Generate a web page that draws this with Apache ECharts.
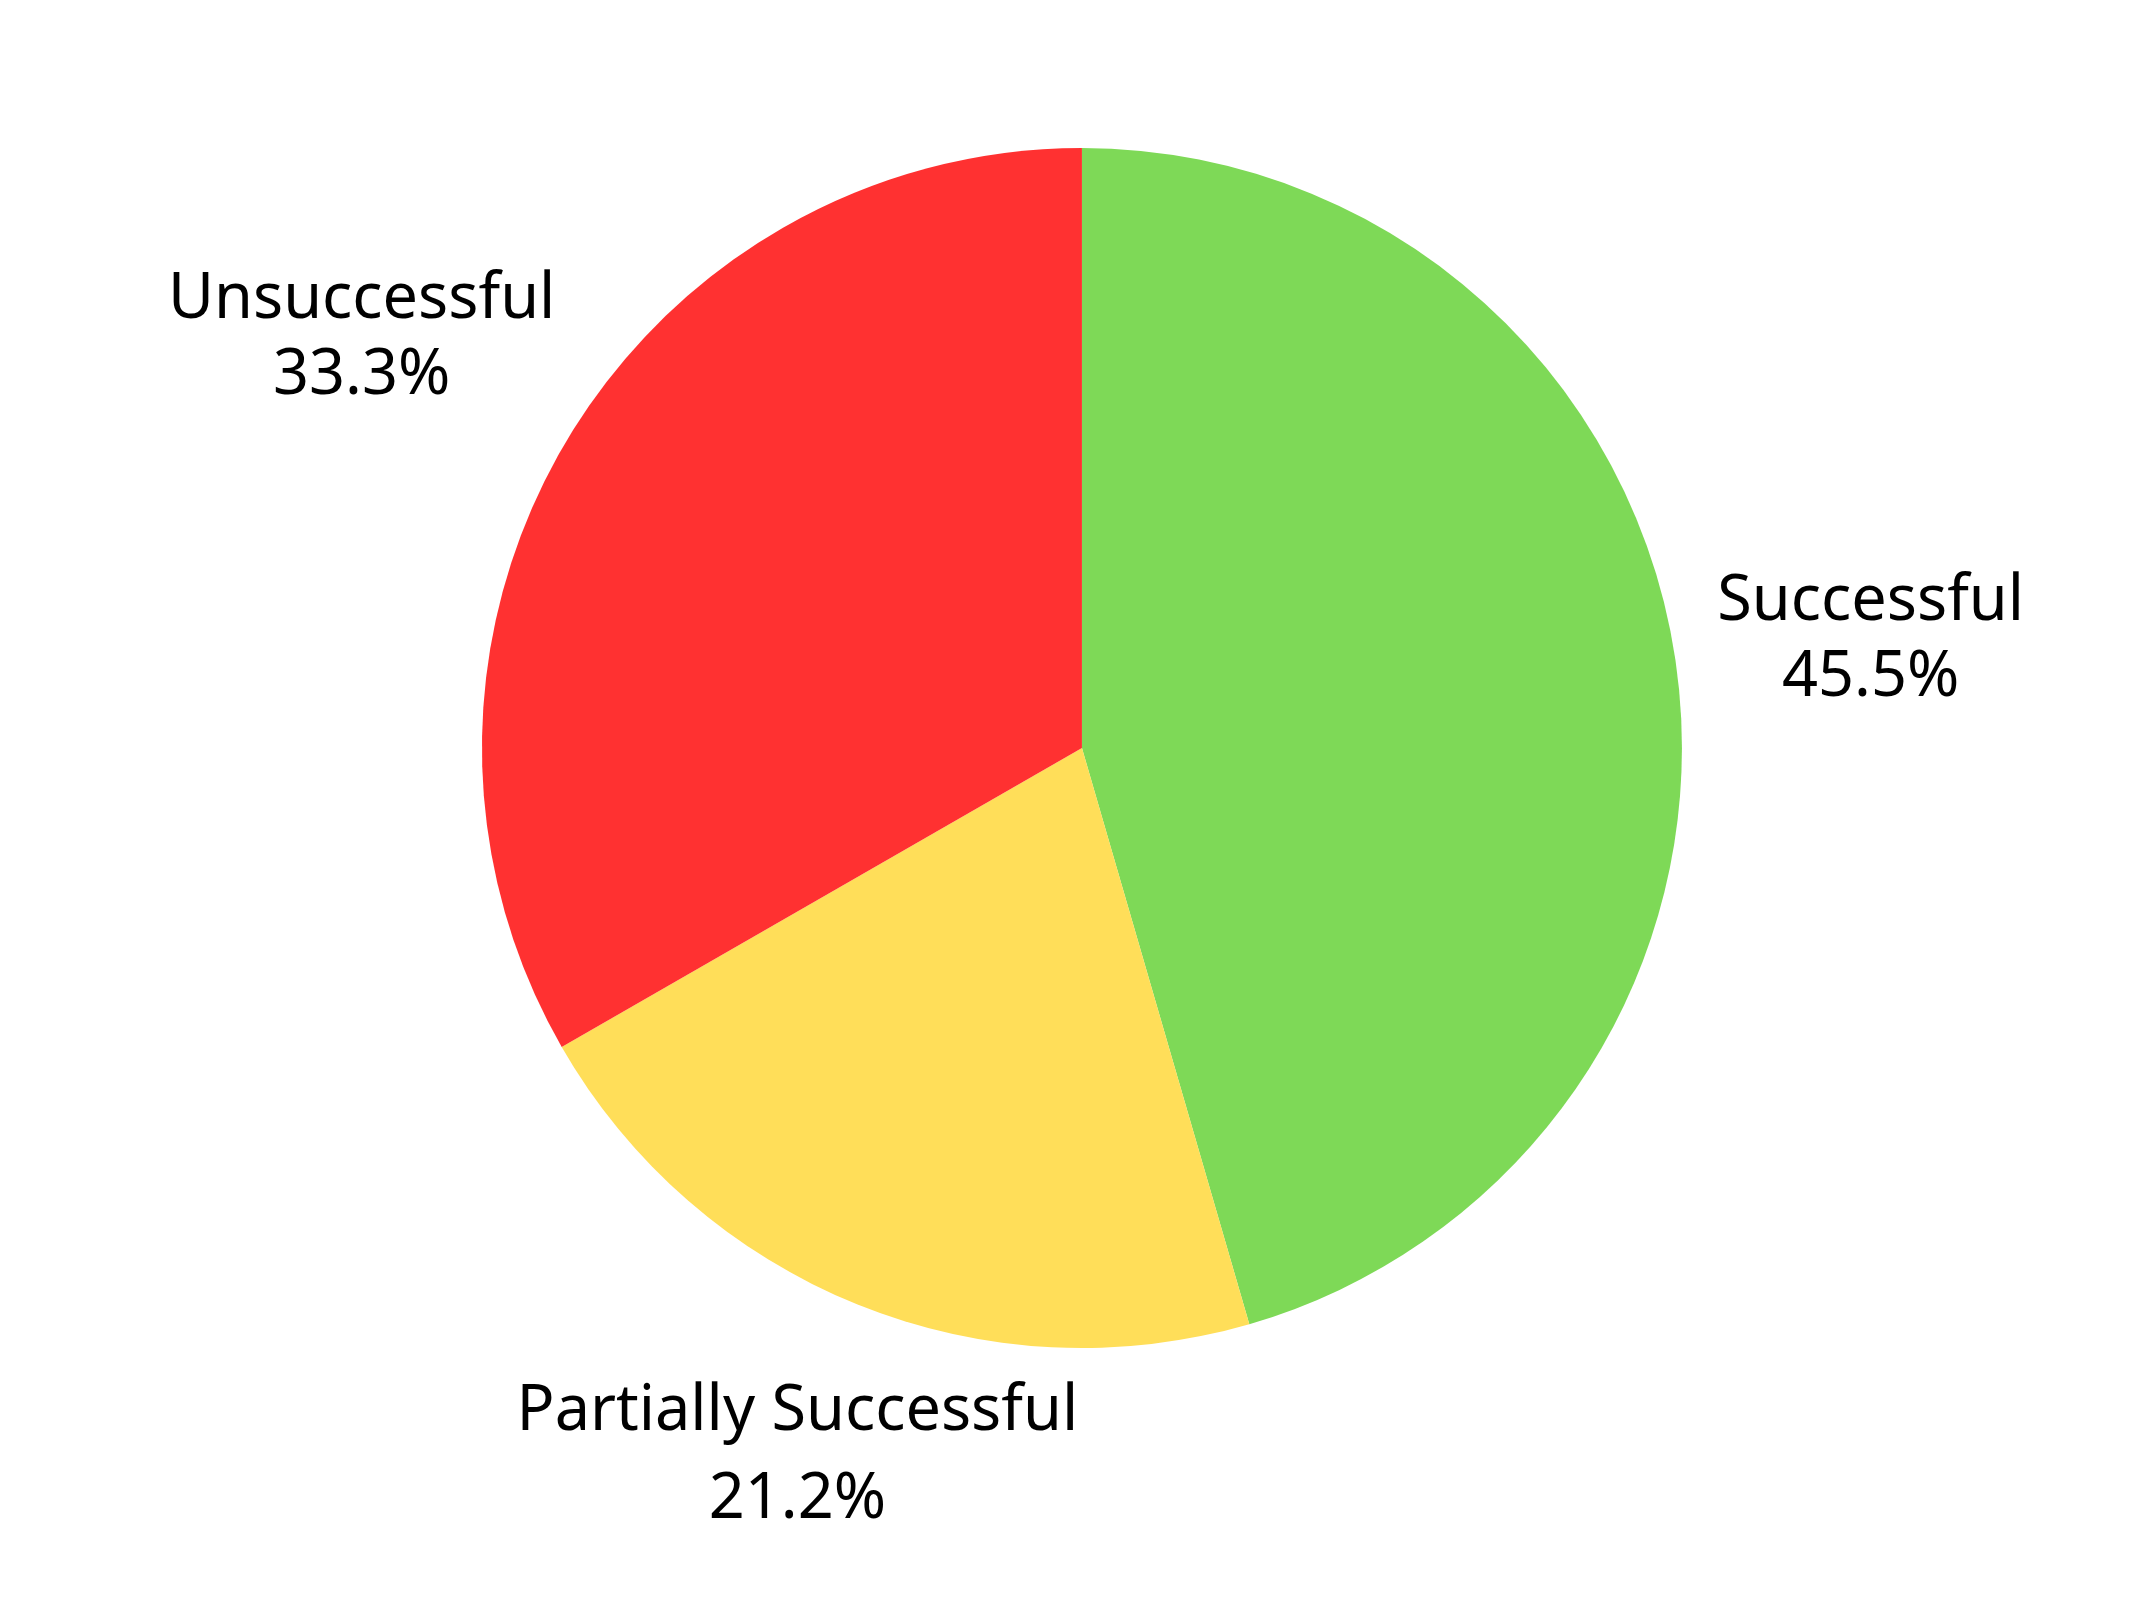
<!DOCTYPE html>
<html>
<head>
<meta charset="utf-8">
<script src="https://cdn.jsdelivr.net/npm/echarts@6/dist/echarts.min.js"></script>
<style>
  html, body { margin: 0; padding: 0; background: #fff; }
  #chart { width: 2134px; height: 1600px; }
</style>
</head>
<body>
<div id="chart"></div>
<script>
const categories = ['Successful', 'Partially Successful', 'Unsuccessful']
const shares = [45.5, 21.2, 33.3]
const colors = ['#7ED957', '#FFDE59', '#FF3131']

// small nudges so the labels sit where the reference has them
const labelShift = [
  { dx: 160, dy: -19, align: 'center' },
  { dx: -44, dy: 124, align: 'center' },
  { dx: -170, dy: -94, align: 'center' }
]

const chart = echarts.init(document.getElementById('chart'))

const option = {
  backgroundColor: '#fff',
  animation: false,
  series: [
    {
      type: 'pie',
      center: ['50.7%', '46.75%'],
      radius: 600,
      startAngle: 90,
      clockwise: true,
      data: categories.map((name, i) => ({
        name: name,
        value: shares[i],
        itemStyle: { color: colors[i] },
        label: i === 1 ? { lineHeight: 88 } : {}
      })),
      label: {
        show: true,
        position: 'outside',
        formatter: (p) => p.name + '\n' + p.value.toFixed(1) + '%',
        fontFamily: 'Noto Sans',
        fontSize: 63,
        color: '#000',
        lineHeight: 76,
        align: 'center'
      },
      labelLine: { show: false, length: 30, length2: 0 },
      labelLayout: (params) => labelShift[params.dataIndex],
      itemStyle: { borderWidth: 0 },
      emphasis: { disabled: true }
    }
  ]
}

option && chart.setOption(option)
</script>
</body>
</html>
